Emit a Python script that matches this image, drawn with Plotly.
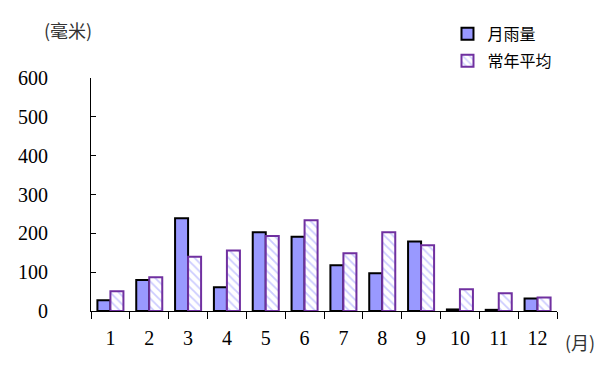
import plotly.graph_objects as go

months = ["1", "2", "3", "4", "5", "6", "7", "8", "9", "10", "11", "12"]
monthly_rain = [28, 80, 239, 61, 203, 191, 118, 97, 179, 4, 3, 32]
normal_rain = [51, 87, 140, 156, 193, 234, 149, 203, 169, 56, 46, 35]
y_ticks = [0, 100, 200, 300, 400, 500, 600]

serif = "Liberation Serif, Times New Roman, serif"
cjk = "Noto Sans CJK SC"

fig = go.Figure()
fig.add_trace(go.Bar(
    x=months, y=monthly_rain, name="月雨量", legendgroup="a",
    marker=dict(color="#9999FF", line=dict(color="black", width=2)),
))
fig.add_trace(go.Bar(
    x=months, y=normal_rain, name="常年平均", legendgroup="b",
    marker=dict(color="white", line=dict(color="#7030A0", width=2),
                pattern=dict(shape="\\", fgcolor="#9999FF", bgcolor="white",
                             size=6, solidity=0.3)),
))

fig.update_layout(
    width=614, height=370,
    margin=dict(l=91, r=57, t=78, b=59),
    paper_bgcolor="white", plot_bgcolor="white",
    barmode="group", bargap=0.33, bargroupgap=0,
    showlegend=True,
    legend=dict(x=0.765, y=1.262, xanchor="left", yanchor="top",
                font=dict(family=cjk, size=16, color="black"),
                bgcolor="rgba(0,0,0,0)", itemwidth=30, tracegroupgap=3),
    xaxis=dict(type="category", showline=True, linecolor="black", linewidth=1,
               ticks="outside", tickson="boundaries", ticklen=7, tickcolor="black",
               tickfont=dict(family=serif, size=20, color="black"),
               showgrid=False, zeroline=False, ticklabelstandoff=9),
    yaxis=dict(range=[0, 600], tickvals=y_ticks, showline=True, linecolor="black",
               linewidth=1, ticks="inside", ticklen=5, tickcolor="black",
               tickfont=dict(family=serif, size=20, color="black"),
               showgrid=False, zeroline=False, ticklabelstandoff=38),
    annotations=[
        dict(text="(毫米)", xref="paper", yref="paper", x=-0.05, y=1.205,
             xanchor="center", yanchor="middle", showarrow=False,
             font=dict(family=cjk, size=18, color="#333333")),
        dict(text="(月)", xref="paper", yref="paper", x=1.049, y=-0.133,
             xanchor="center", yanchor="middle", showarrow=False,
             font=dict(family=cjk, size=18, color="#333333")),
    ],
)

fig.write_html("out.html")
